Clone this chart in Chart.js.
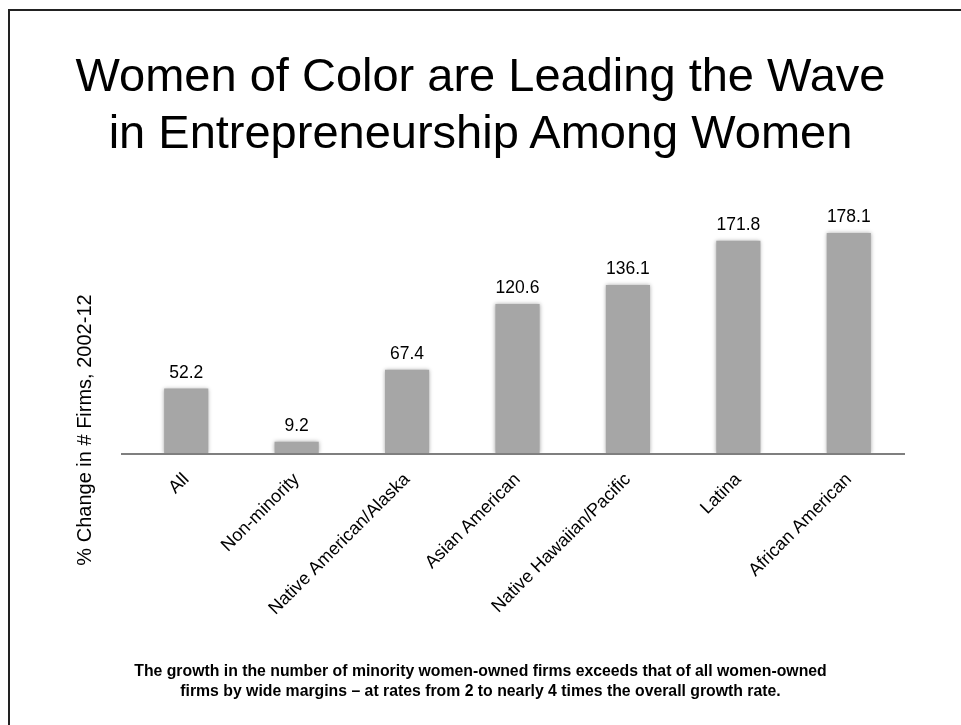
<!DOCTYPE html>
<html>
<head>
<meta charset="utf-8">
<script src="https://cdn.jsdelivr.net/npm/chart.js@4/dist/chart.umd.min.js"></script>
<style>
  body { margin: 0; background: #fff; width: 961px; height: 725px; overflow: hidden; position: relative;
         font-family: "Liberation Sans", Arial, sans-serif; color: #000; }
  #frame { position: absolute; left: 8px; top: 9px; width: 1000px; height: 800px; border: 2px solid #222; }
  #title { position: absolute; left: 0; top: 46px; width: 961px; text-align: center;
           font-size: 47px; line-height: 57px; }
  #note { position: absolute; left: 0; top: 661px; width: 961px; text-align: center;
          font-size: 15.8px; font-weight: bold; line-height: 19.5px; }
  #wrap { position: absolute; left: 0; top: 0; width: 961px; height: 725px; }
</style>
</head>
<body>
<div id="frame"></div>
<div id="wrap"><canvas id="grafico"></canvas></div>
<div id="title">Women of Color are Leading the Wave<br>in Entrepreneurship Among Women</div>
<div id="note">The growth in the number of minority women-owned firms exceeds that of all women-owned<br>firms by wide margins – at rates from 2 to nearly 4 times the overall growth rate.</div>
<script>
const categorias = ['All', 'Non-minority', 'Native American/Alaska', 'Asian American',
  'Native Hawaiian/Pacific', 'Latina', 'African American'];
const valores = [52.2, 9.2, 67.4, 120.6, 136.1, 171.8, 178.1];
const tituloY = '% Change in # Firms, 2002-12';

// rotulos de valor em cima das barras + linha do eixo + titulo do eixo Y
const extras = {
  id: 'extras',
  beforeDatasetsDraw(chart) {
    const ctx = chart.ctx;
    ctx.save();
    ctx.shadowColor = 'rgba(0,0,0,0.35)';
    ctx.shadowBlur = 4;
  },
  afterDatasetsDraw(chart) {
    const ctx = chart.ctx;
    ctx.restore();
    const area = chart.chartArea;
    ctx.save();
    ctx.strokeStyle = '#7f7f7f';
    ctx.lineWidth = 2;
    ctx.beginPath();
    ctx.moveTo(area.left - 10, area.bottom + 1);
    ctx.lineTo(area.right + 1, area.bottom + 1);
    ctx.stroke();

    ctx.fillStyle = '#000';
    ctx.font = '17.5px "Liberation Sans", Arial, sans-serif';
    ctx.textAlign = 'center';
    ctx.textBaseline = 'alphabetic';
    chart.getDatasetMeta(0).data.forEach((bar, i) => {
      ctx.fillText(valores[i].toFixed(1), bar.x, bar.y - 11);
    });

    ctx.translate(91, 430);
    ctx.rotate(-Math.PI / 2);
    ctx.font = '20px "Liberation Sans", Arial, sans-serif';
    ctx.fillText(tituloY, 0, 0);
    ctx.restore();
  }
};

new Chart(document.getElementById('grafico'), {
  type: 'bar',
  data: {
    labels: categorias,
    datasets: [{
      data: valores,
      backgroundColor: '#a6a6a6',
      borderWidth: 0,
      categoryPercentage: 1,
      barPercentage: 0.4
    }]
  },
  options: {
    responsive: true,
    maintainAspectRatio: false,
    animation: false,
    layout: { padding: { top: 206, left: 131, right: 57, bottom: 0 } },
    plugins: { legend: { display: false }, tooltip: { enabled: false } },
    scales: {
      x: {
        grid: { display: false },
        border: { display: false },
        ticks: {
          color: '#000',
          font: { family: '"Liberation Sans", Arial, sans-serif', size: 18 },
          minRotation: 45,
          maxRotation: 45,
          padding: 8
        },
        afterFit: s => { s.height = 272; }
      },
      y: { display: false, min: 0, max: 200 }
    }
  },
  plugins: [extras]
});
</script>
</body>
</html>
